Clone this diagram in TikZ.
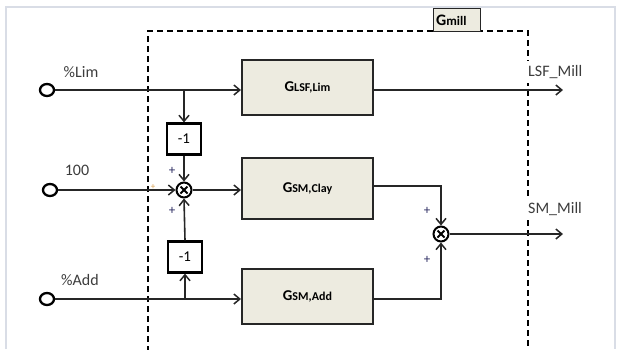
\documentclass[tikz,border=0pt]{standalone}
\usepackage{fontspec}
\setmainfont{Carlito}
\usetikzlibrary{arrows.meta}
\definecolor{boxfill}{HTML}{EDEBE0}
\definecolor{txt}{HTML}{3C3C3C}
\definecolor{frame}{HTML}{D9DDE6}
\definecolor{plusc}{HTML}{2A2A60}
\definecolor{orangep}{HTML}{D9A050}
\tikzset{
  blk/.style={draw=black!85, line width=2pt, fill=boxfill, minimum width=131pt, inner sep=0pt},
  gain/.style={draw=black, line width=2.2pt, fill=white, minimum width=34pt, minimum height=31pt, inner sep=0pt, font=\fontsize{15}{17}\selectfont},
  sumj/.style={draw=black, line width=2pt, circle, minimum size=15pt, inner sep=0pt, path picture={
     \draw[line width=1.8pt] (path picture bounding box.north west) ++(4pt,-4pt) -- ++(7pt,-7pt);
     \draw[line width=1.8pt] (path picture bounding box.north east) ++(-4pt,-4pt) -- ++(-7pt,-7pt);}},
  inport/.style={draw=black, line width=2.3pt, ellipse, minimum width=14pt, minimum height=12pt, inner sep=0pt, fill=white},
  conn/.style={draw=black!85, line width=1.6pt},
  arr/.style={conn, -{Straight Barb[length=6pt,width=10pt,line width=1.5pt]}},
  lbl/.style={text=txt, font=\fontsize{16}{18}\selectfont, inner sep=1pt},
  plus/.style={text=plusc, font=\fontsize{13}{15}\selectfont, inner sep=0pt}
}
\usetikzlibrary{shapes.geometric}
\newcommand{\gsub}[2]{\textbf{\fontsize{15}{17}\selectfont #1\fontsize{12}{14}\selectfont #2}}
\begin{document}
\begin{tikzpicture}[x=1pt,y=-1pt]
\useasboundingbox (0,0) rectangle (619,349);
% outer light frame
\draw[frame, line width=1.2pt] (6,349) -- (6,7) -- (615,7) -- (615,349);
% dashed subsystem box
\draw[black, line width=1.5pt, dash pattern=on 6pt off 4pt] (148,352) -- (148,31) -- (528,31) -- (528,352);
% tab
\node[draw=black!85, line width=1.4pt, fill=boxfill, minimum width=47pt, minimum height=23pt, inner sep=0pt, anchor=north west] (tab) at (433,8) {};
\node[text=black, anchor=west, inner sep=0pt] (tabtxt) at (436,20) {\textbf{\fontsize{16}{18}\selectfont G\fontsize{13}{15}\selectfont mill}};
% blocks
\node[blk, minimum height=55pt] (lsf) at (307.5,87.5) {\gsub{G}{LSF,Lim}};
\node[blk, minimum height=61pt] (clay) at (307.5,188.5) {\gsub{G}{SM,Clay}};
\node[blk, minimum height=55pt] (add) at (307.5,296.5) {\gsub{G}{SM,Add}};
% gains
\node[gain] (g1) at (184,139) {-1};
\node[gain] (g2) at (185,257) {-1};
% summing junctions
\node[sumj] (s1) at (184,190) {};
\node[sumj] (s2) at (441,234) {};
% inputs
\node[inport] (in1) at (47,90) {};
\node[inport] (in2) at (50,190) {};
\node[inport] (in3) at (47,299) {};
% coordinates
\coordinate (b1) at (184,90);
\coordinate (b2) at (185,299);
\coordinate (o1) at (563,90);
\coordinate (o2) at (563,234);
\coordinate (c1) at (441,186);
\coordinate (c2) at (441,299);
% connectors
\draw[arr] (in1) -- (in1 -| lsf.west);
\draw[arr] (b1) -- (g1.north);
\draw[arr] (g1.south) -- (s1.north);
\draw[arr] (in2) -- (s1.west);
\draw[arr] (s1.east) -- (s1 -| clay.west);
\draw[arr] (in3) -- (in3 -| add.west);
\draw[arr] (b2) -- (g2.south);
\draw[arr] (g2.north) -- (s1.south);
\draw[arr] (lsf.east |- o1) -- (o1);
\draw[arr] (clay.east |- c1) -- (c1) -- (s2.north);
\draw[arr] (add.east |- c2) -- (c2) -- (s2.south);
\draw[arr] (s2.east) -- (o2);
% labels
\node[lbl] (l1) at (81,72) {\%Lim};
\node[lbl] (l2) at (77,170) {100};
\node[lbl] (l3) at (80,280) {\%Add};
\node[lbl, fill=white, anchor=west, inner ysep=4pt] (l4) at (527,72) {LSF\_Mill};
\node[lbl, fill=white, anchor=west, inner ysep=4pt] (l5) at (527,209) {SM\_Mill};
% plus signs
\node[plus] (p1) at (172,171) {+};
\node[plus] (p2) at (172,211) {+};
\node[plus, text=orangep, font=\fontsize{9}{11}\selectfont] (p3) at (153,187) {+};
\node[plus] (p4) at (427,211) {+};
\node[plus] (p5) at (427,260) {+};
\end{tikzpicture}
\end{document}
